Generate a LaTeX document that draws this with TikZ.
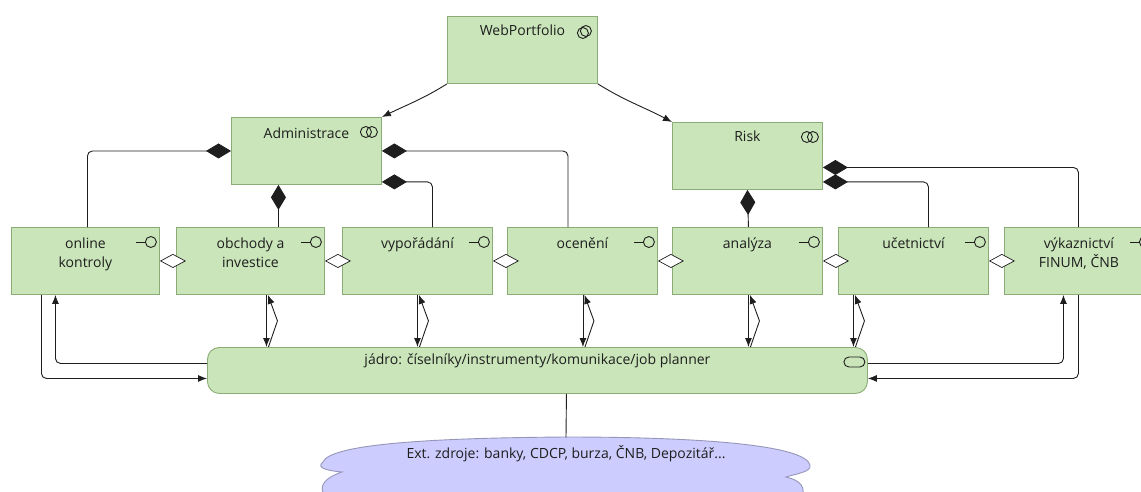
\documentclass[tikz,border=0pt]{standalone}
\usepackage{fontspec}
\setmainfont{Open Sans}
\usetikzlibrary{arrows.meta,calc}
\definecolor{boxfill}{RGB}{201,229,185}
\definecolor{boxdraw}{RGB}{140,172,118}
\definecolor{cloudfill}{RGB}{204,204,255}
\definecolor{clouddraw}{RGB}{150,150,185}
\definecolor{ink}{RGB}{30,30,30}
\begin{document}
\begin{tikzpicture}[x=1pt,y=-1pt,
 box/.style={draw=boxdraw, fill=boxfill, line width=0.9pt, minimum width=149pt, minimum height=67pt, inner sep=0pt, anchor=north west},
 lbl/.style={font=\fontsize{14}{19}\selectfont, align=center, inner sep=0pt, anchor=base, text=ink},
 conn/.style={line width=0.9pt, draw=ink, rounded corners=5pt},
 arr/.style={conn, -{Latex[length=9pt,width=7pt]}},
 comp/.style={conn, {Diamond[length=25pt,width=15pt,fill=ink]}-},
 aggr/.style={line width=0.7pt, draw=ink, -{Diamond[length=26pt,width=14pt,open,fill=white]}},
 icon/.style={line width=0.9pt, draw=ink},
]
\useasboundingbox (0,0) rectangle (1141,491);

% boxes
\node[box, minimum width=150pt] (web) at (447,16) {};
\node[box, minimum width=150pt] (admin) at (231,117) {};
\node[box, minimum width=150pt] (risk) at (672,122) {};
\node[box, minimum width=148pt] (onl) at (11,227) {};
\node[box, minimum width=148pt] (obch) at (176,227) {};
\node[box, minimum width=150pt] (vyp) at (342,227) {};
\node[box, minimum width=150pt] (oce) at (507,227) {};
\node[box, minimum width=150pt] (ana) at (672,227) {};
\node[box, minimum width=150pt] (uce) at (838,227) {};
\node[box, minimum width=149pt] (vyk) at (1004,227) {};
\node[box, rounded corners=12pt, minimum width=660pt, minimum height=46pt] (core) at (207,347) {};

% labels
\node[lbl] (webt) at ([yshift=-19pt]web.north) {WebPortfolio};
\node[lbl] (admint) at ([yshift=-21pt]admin.north) {Administrace};
\node[lbl] (riskt) at ([yshift=-19pt]risk.north) {Risk};
\node[lbl] (onlt) at ([yshift=-40pt]onl.north) {online\\kontroly};
\node[lbl] (obcht) at ([yshift=-40pt]obch.north) {obchody a\\investice};
\node[lbl] (vypt) at ([yshift=-21pt]vyp.north) {vypořádání};
\node[lbl] (ocet) at ([yshift=-21pt]oce.north) {ocenění};
\node[lbl] (anat) at ([yshift=-21pt]ana.north) {analýza};
\node[lbl] (ucet) at ([yshift=-21pt]uce.north) {učetnictví};
\node[lbl] (vykt) at ([yshift=-40pt]vyk.north) {výkaznictví\\FINUM, ČNB};
\node[lbl] (coret) at ([yshift=-17pt]core.north) {jádro: číselníky/instrumenty/komunikace/job planner};

% icons
\draw[icon] ([xshift=-15pt,yshift=-17pt]web.north east) circle (5.5pt);
\draw[icon] ([xshift=-12pt,yshift=-15pt]web.north east) circle (5.5pt);
\foreach \b in {admin,risk}{
  \draw[icon] ([xshift=-16pt,yshift=-15pt]\b.north east) circle (5.5pt);
  \draw[icon] ([xshift=-10pt,yshift=-15pt]\b.north east) circle (5.5pt);
}
\foreach \b in {onl,obch,vyp,oce,ana,uce,vyk}{
  \draw[icon] ([xshift=-24pt,yshift=-15pt]\b.north east) -- ++(9.5,0);
  \draw[icon] ([xshift=-9pt,yshift=-15pt]\b.north east) circle (5.5pt);
}
\draw[icon, rounded corners=5pt] ([xshift=-24pt,yshift=-10pt]core.north east) rectangle ([xshift=-3pt,yshift=-20pt]core.north east);

% WebPortfolio arrows
\draw[arr] (web.south west) to[out=212,in=26] (admin.north east);
\draw[arr] (web.south east) to[out=-32,in=152] (risk.north west);

% composition
\draw[comp] (admin.west) -| ([xshift=2pt]onl.north);
\draw[comp] (admin.east) -| ([xshift=-14.5pt]oce.north);
\draw[comp] ([yshift=3pt]admin.south east) -| ([xshift=15pt]vyp.north);
\draw[comp] ([xshift=28pt]obch.north |- admin.south) -- ([xshift=28pt]obch.north);
\draw[comp] ([yshift=-11.5pt]risk.east) -| ([xshift=-0.5pt]vyk.north);
\draw[comp] ([yshift=8pt]risk.south east) -| ([xshift=15pt]uce.north);
\draw[comp] (risk.south) -- ([xshift=1pt]ana.north);

% row <-> core
\foreach \b/\s in {obch/16,vyp/0,oce/0.5,ana/1,uce/-60}{
  \draw[arr, rounded corners=0pt] ([xshift=\s pt]\b.south) -- ([xshift=\s pt]\b.south |- core.north);
  \draw[arr, rounded corners=0pt] ([xshift=\s pt+2pt]\b.south |- core.north) -- ([xshift=\s pt+11pt,yshift=-26pt]\b.south) -- ([xshift=\s pt+1.5pt]\b.south);
}
\draw[arr] ([yshift=7pt]core.west) -| ([xshift=-30pt]onl.south);
\draw[arr] ([xshift=-44pt]onl.south) |- ([yshift=-8pt]core.west);
\draw[arr] ([yshift=7pt]core.east) -| ([xshift=-15.5pt]vyk.south);
\draw[arr] ([xshift=-0.5pt]vyk.south) |- ([yshift=-8pt]core.east);

% aggregation
\draw[aggr] (obch.west) -- (onl.east);
\draw[aggr] (vyp.west) -- (obch.east);
\draw[aggr] (oce.west) -- (vyp.east);
\draw[aggr] (ana.west) -- (oce.east);
\draw[aggr] (uce.west) -- (ana.east);
\draw[aggr] (vyk.west) -- (uce.east);

% cloud
\draw[draw=clouddraw, fill=cloudfill, line width=0.9pt]
  (323,462) .. controls (330,445) and (420,438) .. (566,437)
  .. controls (700,437) and (805,445) .. (810,465)
  .. controls (812,472) and (795,474) .. (786,477)
  .. controls (800,480) and (808,488) .. (800,500)
  -- (330,500) .. controls (318,492) and (318,480) .. (342,472)
  .. controls (320,470) and (318,466) .. (323,462) -- cycle;
\coordinate (cloudtop) at (566,437.5);
\node[lbl] (cloudt) at (566,458) {Ext. zdroje: banky, CDCP, burza, ČNB, Depozitář...};
\draw[conn] ([xshift=29pt]core.south) -- (cloudtop);
\end{tikzpicture}
\end{document}
